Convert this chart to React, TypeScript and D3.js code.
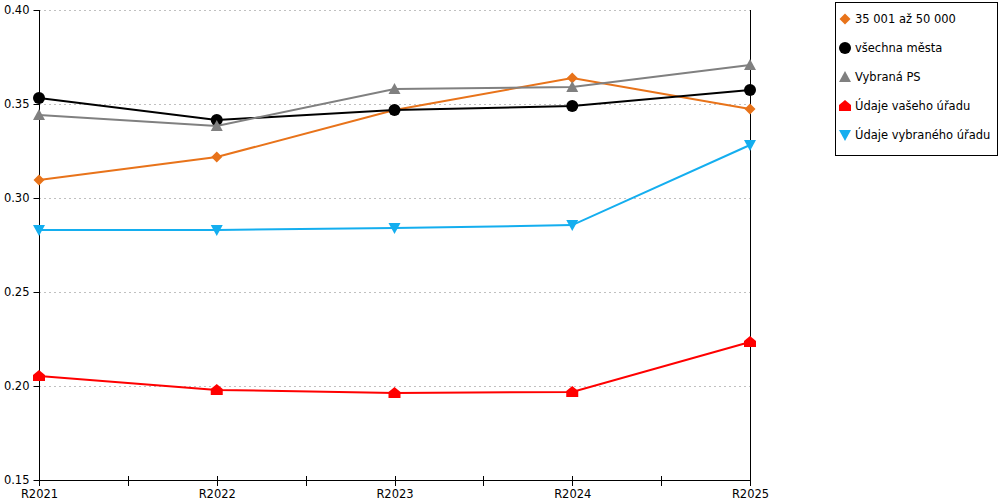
import React, { useEffect, useRef } from "react";
import * as d3 from "d3";

const categories = ["R2021", "R2022", "R2023", "R2024", "R2025"];
const yTicks = [0.15, 0.2, 0.25, 0.3, 0.35, 0.4];

const seriesNames = [
  "35 001 až 50 000",
  "všechna města",
  "Vybraná PS",
  "Údaje vašeho úřadu",
  "Údaje vybraného úřadu",
];
const seriesColors = ["#e8731a", "#000000", "#808080", "#ff0000", "#14aeef"];
const seriesMarkers = ["diamond", "circle", "triangleUp", "house", "triangleDown"];

const rangeValues = [0.3096, 0.3218, 0.3468, 0.3638, 0.3473];
const allCitiesValues = [0.3532, 0.3415, 0.3468, 0.3489, 0.3574];
const selectedPsValues = [0.3441, 0.3383, 0.358, 0.359, 0.3707];
const yourOfficeValues = [0.2053, 0.1979, 0.1963, 0.1968, 0.2234];
const selectedOfficeValues = [0.283, 0.283, 0.284, 0.2856, 0.3282];

const seriesValues = [
  rangeValues,
  allCitiesValues,
  selectedPsValues,
  yourOfficeValues,
  selectedOfficeValues,
];

const markerPath = (type: string) => {
  switch (type) {
    case "diamond":
      return "M0,-5.5L5.5,0L0,5.5L-5.5,0Z";
    case "circle":
      return "M-6,0A6,6 0 1,0 6,0A6,6 0 1,0 -6,0Z";
    case "triangleUp":
      return "M0,-6L6,5L-6,5Z";
    case "house":
      return "M0,-6L6,-1L6,5L-6,5L-6,-1Z";
    case "triangleDown":
      return "M-6,-5L6,-5L0,6Z";
    default:
      return "";
  }
};

const App: React.FC = () => {
  const svgRef = useRef<SVGSVGElement>(null);

  useEffect(() => {
    if (!svgRef.current) return;
    const svg = d3.select(svgRef.current);
    svg.selectAll("*").remove();

    const left = 39;
    const right = 750;
    const top = 10;
    const bottom = 480;
    const font = "'DejaVu Sans', Verdana, sans-serif";
    const fontSize = "11.5px";

    const x = d3
      .scalePoint<string>()
      .domain(categories)
      .range([left, right]);
    const y = d3.scaleLinear().domain([0.15, 0.4]).range([bottom, top]);

    // grid
    svg
      .append("g")
      .selectAll("line")
      .data(yTicks.filter((t) => t > 0.15))
      .enter()
      .append("line")
      .attr("x1", left)
      .attr("x2", right)
      .attr("y1", (d) => Math.round(y(d)) + 0.5)
      .attr("y2", (d) => Math.round(y(d)) + 0.5)
      .attr("stroke", "#c0c0c0")
      .attr("stroke-dasharray", "2,3");

    // y axis
    const yAxis = svg
      .append("g")
      .attr("transform", `translate(${left + 0.5},0)`)
      .call(
        d3
          .axisLeft(y)
          .tickValues(yTicks)
          .tickSize(6)
          .tickPadding(4)
          .tickFormat((d) => d3.format(".2f")(d as number)),
      );
    yAxis.selectAll("text").style("font-family", font).style("font-size", fontSize).attr("fill", "#000");
    yAxis.select(".domain").attr("stroke", "#000").attr("d", `M0,${top}V${bottom}`);

    // right axis line
    svg
      .append("line")
      .attr("x1", right + 0.5)
      .attr("x2", right + 0.5)
      .attr("y1", top)
      .attr("y2", bottom)
      .attr("stroke", "#000");

    // x axis
    const xAxis = svg
      .append("g")
      .attr("transform", `translate(0,${bottom + 0.5})`)
      .call(d3.axisBottom(x).tickSize(0).tickPadding(9));
    xAxis.select(".domain").attr("stroke", "#000").attr("d", `M${left},0H${right}`);
    xAxis.selectAll("text").style("font-family", font).style("font-size", fontSize).attr("fill", "#000");

    // x ticks (major + minor)
    const step = x.step();
    const tickPositions: number[] = [];
    categories.forEach((c, i) => {
      tickPositions.push(x(c)!);
      if (i < categories.length - 1) tickPositions.push(x(c)! + step / 2);
    });
    svg
      .append("g")
      .selectAll("line")
      .data(tickPositions)
      .enter()
      .append("line")
      .attr("x1", (d) => Math.round(d) + 0.5)
      .attr("x2", (d) => Math.round(d) + 0.5)
      .attr("y1", bottom - 4)
      .attr("y2", bottom + 6)
      .attr("stroke", "#000");

    // series
    const line = d3
      .line<number>()
      .x((_d, i) => x(categories[i])!)
      .y((d) => y(d));

    seriesValues.forEach((vals, si) => {
      const g = svg.append("g");
      g.append("path")
        .attr("d", line(vals))
        .attr("fill", "none")
        .attr("stroke", seriesColors[si])
        .attr("stroke-width", 2);
      g.selectAll("path.marker")
        .data(vals)
        .enter()
        .append("path")
        .attr("class", "marker")
        .attr("d", markerPath(seriesMarkers[si]))
        .attr("transform", (d, i) => `translate(${x(categories[i])},${y(d)})`)
        .attr("fill", seriesColors[si]);
    });

    // legend
    const legend = svg.append("g");
    legend
      .append("rect")
      .attr("x", 835.5)
      .attr("y", 2.5)
      .attr("width", 162)
      .attr("height", 153)
      .attr("fill", "#fff")
      .attr("stroke", "#000");
    seriesNames.forEach((name, i) => {
      const ly = 19 + i * 29;
      legend
        .append("path")
        .attr("d", markerPath(seriesMarkers[i]))
        .attr("transform", `translate(845,${ly})`)
        .attr("fill", seriesColors[i]);
      legend
        .append("text")
        .attr("x", 855)
        .attr("y", ly + 4)
        .style("font-family", font)
        .style("font-size", fontSize)
        .attr("fill", "#000")
        .text(name);
    });
  }, []);

  return (
    <div style={{ position: "absolute", left: 0, top: 0 }}>
      <svg ref={svgRef} width={1000} height={500} style={{ display: "block", background: "#fff" }} />
    </div>
  );
};

export default App;
